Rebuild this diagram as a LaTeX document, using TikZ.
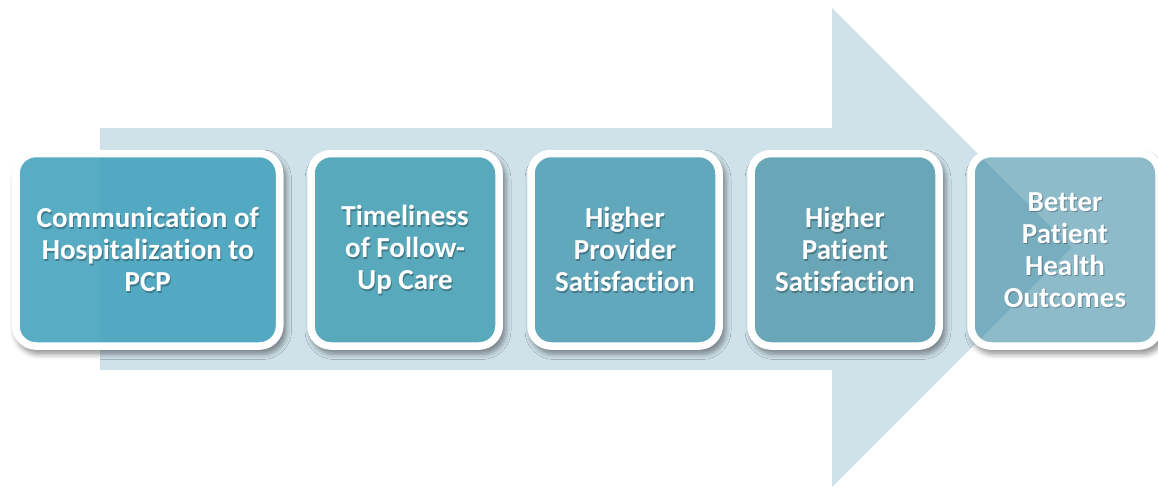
\documentclass[tikz,border=0pt]{standalone}
\usepackage{fontspec}
\setmainfont{Carlito}[Ligatures=NoCommon]
\usetikzlibrary{shadows.blur}

\definecolor{arrowfill}{RGB}{207,226,234}
\definecolor{stageA}{RGB}{70,163,189}
\definecolor{stageB}{RGB}{77,163,185}
\definecolor{stageC}{RGB}{86,162,185}
\definecolor{stageD}{RGB}{95,161,179}
\definecolor{stageE}{RGB}{48,131,157}

\tikzset{
  stagebox/.style={draw=white, line width=7.5pt, rounded corners=20pt,
    inner sep=0pt, minimum height=192.5pt, text opacity=1},
  stagetext/.style={text=white, align=center,
    font=\bfseries\fontsize{29}{32}\selectfont},
  stagetextshadow/.style={stagetext, text=black, text opacity=0.28},
  boxshadow/.style={blur shadow={shadow xshift=3pt, shadow yshift=-5pt,
    shadow blur radius=5pt, shadow opacity=40}},
}

% #1 name, #2 centre x, #3 width, #4 colour, #5 fill opacity, #6 text
\newcommand\stagestep[6]{%
  \begin{scope}
    % soft shadow, kept outside the box itself
    \clip (-20,-20) -- (1200,-20) -- (1200,520) -- (-20,520) -- cycle
      [rounded corners=24pt]
      (#2-#3/2-4,150) -- (#2-#3/2-4,349.5) -- (#2+#3/2+4,349.5)
      -- (#2+#3/2+4,150) -- cycle;
    \path[rounded corners=24pt, boxshadow]
      (#2-#3/2-4,150) rectangle (#2+#3/2+4,349.5);
  \end{scope}
  \node[stagebox, fill=#4, fill opacity=#5, minimum width=#3pt]
    (#1) at (#2,249.75) {};
  \node[stagetextshadow] (#1-s) at ([xshift=1pt,yshift=-1.5pt]#1.center) {#6};
  \node[stagetext] (#1-t) at (#1.center) {#6};
}

\begin{document}
\begin{tikzpicture}[x=1pt, y=-1pt]
  \useasboundingbox (0,0) rectangle (1158,488);

  % large background arrow
  \fill[arrowfill] (100,128) -- (832,128) -- (832,8) -- (1071.5,247.5)
    -- (832,487) -- (832,370) -- (100,370) -- cycle;

  \stagestep{s1}{147.75}{263.5}{stageA}{0.9}{Communication of\\Hospitalization to\\PCP}
  \stagestep{s2}{405}{188}{stageB}{0.9}{Timeliness\\of Follow-\\Up Care}
  \stagestep{s3}{625}{188}{stageC}{0.9}{Higher\\Provider\\Satisfaction}
  \stagestep{s4}{845}{188}{stageD}{0.9}{Higher\\Patient\\Satisfaction}
  \stagestep{s5}{1065}{188}{stageE}{0.55}{Better\\Patient\\Health\\Outcomes}
\end{tikzpicture}
\end{document}
